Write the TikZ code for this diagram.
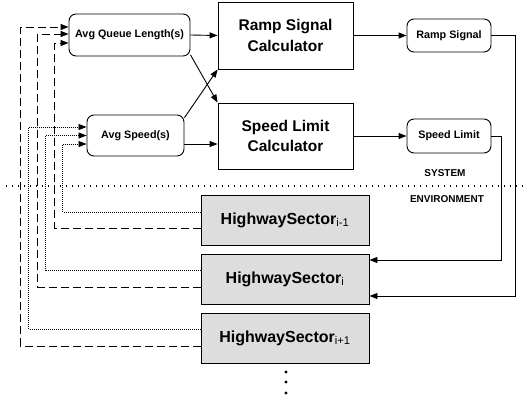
\documentclass[tikz,border=0pt]{standalone}
\usepackage{fontspec}
\setmainfont{Liberation Sans}
\usetikzlibrary{arrows.meta}
\begin{document}
\begin{tikzpicture}[x=1pt, y=-1pt, line width=0.9pt,
    calcbox/.style={draw, minimum width=135pt, minimum height=67pt, align=center,
      inner sep=0pt, font=\fontsize{15.5}{20.5}\selectfont\bfseries},
    databox/.style={draw, rounded corners=7pt, inner sep=0pt,
      font=\fontsize{10.8}{12}\selectfont\bfseries},
    sectorbox/.style={draw, fill=gray!27, minimum width=168pt, minimum height=50pt,
      inner sep=0pt, font=\fontsize{16}{18}\selectfont\bfseries},
    conn/.style={-{Triangle[length=8pt,width=6pt]}},
    qline/.style={conn, dash pattern=on 8pt off 4pt},
    vline/.style={conn, line width=0.8pt, dash pattern=on 1pt off 1pt},
    sublabel/.style={font=\fontsize{10}{11}\selectfont\bfseries}
  ]
  \useasboundingbox (0,0) rectangle (524,402);

  % system
  \node[databox, minimum width=121pt, minimum height=42pt] (avgq) at (129.5,35) {Avg Queue Length(s)};
  \node[databox, minimum width=97pt, minimum height=41pt] (avgs) at (135.5,135.5) {Avg Speed(s)};
  \node[calcbox] (rampcalc) at (285.5,35.5) {Ramp Signal\\Calculator};
  \node[calcbox, minimum height=66pt] (speedcalc) at (285.5,136) {Speed Limit\\Calculator};
  \node[databox, minimum width=84pt, minimum height=33pt] (rampsig) at (449,35.5) {Ramp Signal};
  \node[databox, minimum width=84pt, minimum height=34pt] (speedlim) at (449,136) {Speed Limit};

  \draw[conn] (avgq.east) -- (rampcalc.west);
  \draw[conn] (avgq.-18) -- (speedcalc.north west);
  \draw[conn] (avgs.20) -- (rampcalc.south west);
  \draw[conn] ([yshift=-8.5pt]avgs.east) -- ([yshift=-8.5pt]avgs.east -| speedcalc.west);
  \draw[conn] (rampcalc.east |- rampsig.west) -- (rampsig.west);
  \draw[conn] (speedcalc.east) -- (speedlim.west);

  % border
  \draw[line width=1.3pt, dash pattern=on 1.3pt off 4.7pt] (6,186) -- (524,186);
  \node[sublabel] (sys) at (445,173) {SYSTEM};
  \node[sublabel] (env) at (447,199) {ENVIRONMENT};

  % environment
  \node[sectorbox] (hs1) at (285,220) {HighwaySector\textsubscript{\mdseries i-1}};
  \node[sectorbox] (hs2) at (285,279) {HighwaySector\textsubscript{\mdseries i}};
  \node[sectorbox] (hs3) at (285,338) {HighwaySector\textsubscript{\mdseries i+1}};
  \foreach \y in {372,382,393}
    \fill (286,\y) circle (1.6pt);

  \draw[conn] (rampsig.east) -- ++(24,0) |- ([yshift=-17pt]hs2.east);
  \draw[conn] (speedlim.east) -- ++(10,0) |- ([yshift=19pt]hs2.east);

  % feedback
  \draw[qline] ([yshift=-8pt]hs1.west) -- ++(-146,0) |- ([yshift=-8pt]avgq.west);
  \draw[qline] ([yshift=-8pt]hs2.west) -- ++(-163,0) |- ([yshift=1pt]avgq.west);
  \draw[qline] ([yshift=-8pt]hs3.west) -- ++(-180,0) |- ([yshift=8pt]avgq.west);
  \draw[vline] ([yshift=8pt]hs1.west) -- ++(-138,0) |- ([yshift=-8.5pt]avgs.west);
  \draw[vline] ([yshift=9pt]hs2.west) -- ++(-155,0) |- (avgs.west);
  \draw[vline] ([yshift=9pt]hs3.west) -- ++(-172,0) |- ([yshift=8.5pt]avgs.west);
\end{tikzpicture}
\end{document}
